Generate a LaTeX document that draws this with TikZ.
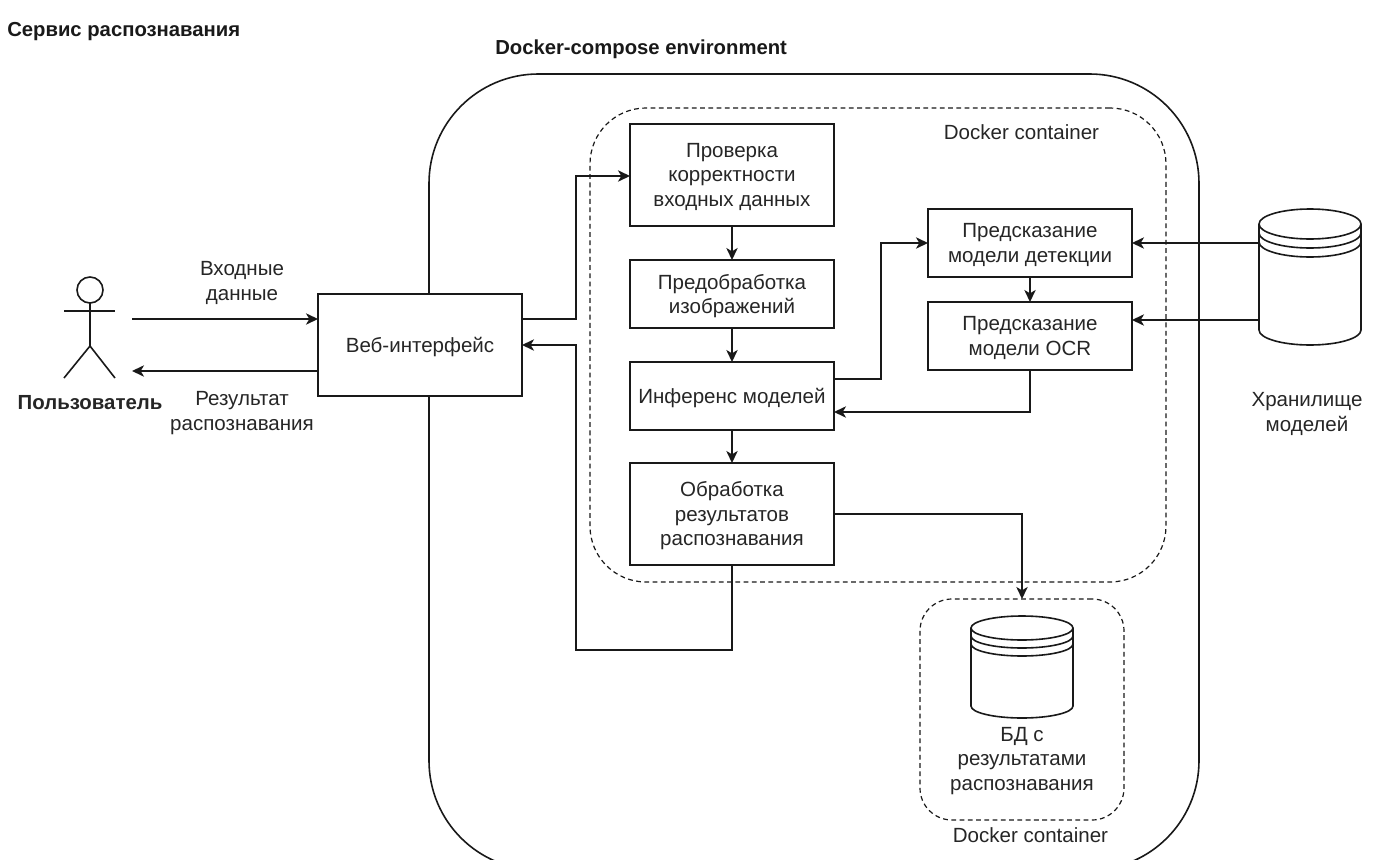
\documentclass[tikz,border=0pt]{standalone}
\usepackage{fontspec}
\setmainfont{Liberation Sans}
\usetikzlibrary{arrows.meta}
\tikzset{
  x=0.75pt,y=-0.75pt,
  ln/.style={line width=1.2pt,draw=black!90},
  lab/.style={align=center,font=\fontsize{15.4pt}{18.4pt}\selectfont,inner sep=0pt,text=black!85},
  stepbox/.style={ln,fill=white,rectangle,inner sep=0pt,outer sep=0pt,label={[lab,yshift=-1.4pt]center:{#1}}},
  dashbox/.style={line width=0.9pt,draw=black!90,dash pattern=on 3.6pt off 2.6pt,rectangle,inner sep=0pt,outer sep=0pt},
  outerbox/.style={ln,rectangle,inner sep=0pt,outer sep=0pt,rounded corners=82pt},
  head/.style={font=\bfseries\fontsize{15.2pt}{16pt}\selectfont,inner sep=0pt,anchor=west,text=black!90},
  conn/.style={ln,-{Stealth[length=9pt,width=8.5pt,inset=2.5pt]}},
  cyl/.style={rectangle,inner sep=0pt,outer sep=0pt,minimum width=76.5pt},
  cylline/.style={ln,fill=white},
}
\newcommand{\cylinder}[6]{%
  % #1 name, #2 cx, #3 top, #4 bottom, #5 ry, #6 ring step
  \node[cyl,minimum height={(#4-#3)*0.75pt}] (#1) at (#2,{(#3+#4)/2}) {};
  \draw[cylline] (#1.north west |- 0,{#3+#5}) arc[x radius=51,y radius=#5,start angle=180,end angle=360]
    -- (#1.south east |- 0,{#4-#5}) arc[x radius=51,y radius=#5,start angle=0,end angle=180] -- cycle;
  \draw[ln] (#1.north west |- 0,{#3+#5}) arc[x radius=51,y radius=#5,start angle=180,end angle=0];
  \draw[ln] (#1.north west |- 0,{#3+#5+#6}) arc[x radius=51,y radius=#5,start angle=180,end angle=0];
  \draw[ln] (#1.north west |- 0,{#3+#5+2*#6}) arc[x radius=51,y radius=#5,start angle=180,end angle=0];
}
\begin{document}
\begin{tikzpicture}
\useasboundingbox (0,0) rectangle (1386,860);
\clip (0,0) rectangle (1386,860);
\fill[white] (0,0) rectangle (1386,860);

\node[head] (t1) at (7,32) {Сервис распознавания};
\node[head] (t2) at (495,49) {Docker-compose environment};

% containers
\node[outerbox,minimum width=577.5pt,minimum height=597pt] (env) at (814,472) {};
\node[dashbox,rounded corners=42pt,minimum width=432pt,minimum height=355.5pt] (cont1) at (878,345) {};
\node[lab] (cont1t) at (1021.5,132) {Docker container};
\node[dashbox,rounded corners=24pt,minimum width=153pt,minimum height=165.75pt] (cont2) at (1022,709.5) {};
\node[lab] (cont2t) at (1030.5,835) {Docker container};

% actor
\node[circle,ln,minimum size=19.5pt,inner sep=0pt,outer sep=0pt] (head) at (90,290) {};
\coordinate (hip) at (90,346);
\draw[ln] (head.south) -- (hip);
\draw[ln] (64,311) -- (115,311);
\draw[ln] (64,378) -- (hip) -- (115,378);
\coordinate (actorR) at (132,319);
\coordinate (actorL) at (132,371);
\node[lab,font=\bfseries\fontsize{15.3pt}{18pt}\selectfont] (user) at (90,403) {Пользователь};

% boxes
\node[stepbox={Веб-интерфейс},minimum width=153pt,minimum height=76.5pt] (web) at (420,345) {};
\node[stepbox={Проверка\\корректности\\входных данных},minimum width=153pt,minimum height=76.5pt] (check) at (732,175) {};
\node[stepbox={Предобработка\\изображений},minimum width=153pt,minimum height=51pt] (prep) at (732,294) {};
\node[stepbox={Инференс моделей},minimum width=153pt,minimum height=51pt] (inf) at (732,396) {};
\node[stepbox={Обработка\\результатов\\распознавания},minimum width=153pt,minimum height=76.5pt] (post) at (732,514) {};
\node[stepbox={Предсказание\\модели детекции},minimum width=153pt,minimum height=51pt] (det) at (1030,243) {};
\node[stepbox={Предсказание\\модели OCR},minimum width=153pt,minimum height=51pt] (ocr) at (1030,336) {};

% cylinders
\cylinder{store}{1310}{209}{345}{15}{9}
\cylinder{db}{1022}{616}{718}{12}{8}
\node[lab] (storet) at (1307,414) {Хранилище\\моделей};
\node[lab] (dbt) at (1022,761) {БД с\\результатами\\распознавания};

% labels
\node[lab] (in) at (242,283) {Входные\\данные};
\node[lab] (out) at (242,413) {Результат\\распознавания};

% connectors
\draw[conn] (actorR) -- (web.west |- actorR);
\draw[conn] (web.west |- actorL) -- (actorL);
\draw[conn] (web.east |- 0,319) -| (576,176) -- (check.west |- 0,176);
\draw[conn] (check.south) -- (prep.north);
\draw[conn] (prep.south) -- (inf.north);
\draw[conn] (inf.south) -- (post.north);
\draw[conn] (post.south) |- (576,650) |- (web.east |- 0,345);
\draw[conn] (inf.east |- 0,379) -| (881,243) -- (det.west);
\draw[conn] (ocr.south) |- (inf.east |- 0,412);
\draw[conn] (det.south) -- (ocr.north);
\draw[conn] (store.west |- det.east) -- (det.east);
\draw[conn] (store.west |- 0,320) -- (ocr.east |- 0,320);
\draw[conn] (post.east) -| (cont2.north);
\end{tikzpicture}
\end{document}
